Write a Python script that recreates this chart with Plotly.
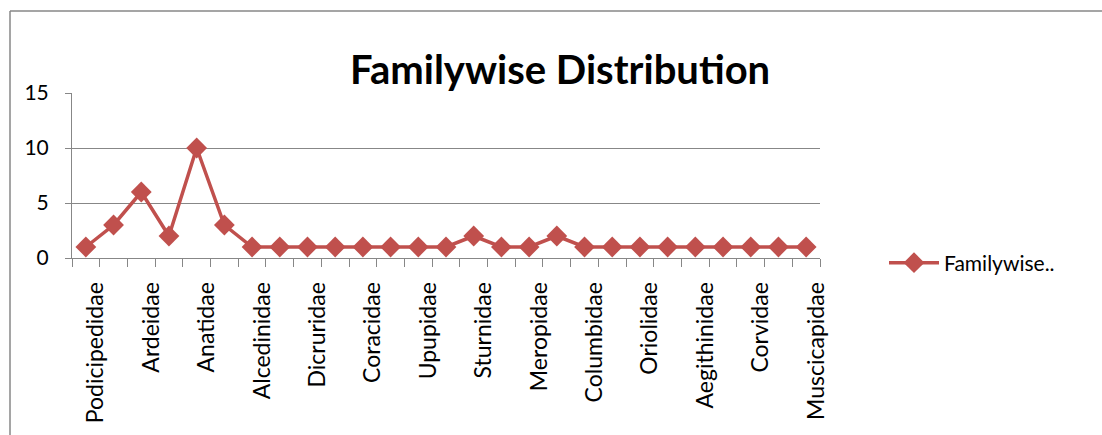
import plotly.graph_objects as go

# 27 families; only every other category label is shown in the chart
categories = [
    "Podicipedidae", "", "Ardeidae", "", "Anatidae", "", "Alcedinidae", "",
    "Dicruridae", "", "Coracidae", "", "Upupidae", "", "Sturnidae", "",
    "Meropidae", "", "Columbidae", "", "Oriolidae", "", "Aegithinidae", "",
    "Corvidae", "", "Muscicapidae",
]
values = [1, 3, 6, 2, 10, 3, 1, 1, 1, 1, 1, 1, 1, 1, 2, 1, 1, 2, 1, 1, 1, 1, 1, 1, 1, 1, 1]
y_ticks = [0, 5, 10, 15]
series_name = "Familywise.."
title_text = "Familywise Distribution"

W, H = 1102, 435
L, R, T, B = 72, 820, 93, 258   # plot area in pixels

x_idx = list(range(len(categories)))
tickvals = [i for i, c in enumerate(categories) if c]
ticktext = [c for c in categories if c]
boundaries = [i - 0.5 for i in range(len(categories) + 1)]

FONT = "Lato"
RED = "#C0504D"
GRAY = "#878787"

fig = go.Figure()
fig.add_trace(go.Scatter(
    x=x_idx, y=values, mode="lines+markers", name=series_name,
    line=dict(color=RED, width=3.5),
    marker=dict(symbol="diamond", size=16, color=RED),
    text=categories,
))

def px_x(p):
    return (p - L) / (R - L)

def px_y(p):
    return (B - p) / (B - T)

fig.update_layout(
    width=W, height=H,
    margin=dict(l=L, r=W - R, t=T, b=H - B, autoexpand=False),
    paper_bgcolor="white", plot_bgcolor="white",
    font=dict(family=FONT, size=21, color="#000000"),
    showlegend=True,
    legend=dict(x=px_x(884), y=px_y(263), xanchor="left", yanchor="middle",
                itemwidth=50,
                font=dict(family=FONT, size=21), bgcolor="rgba(0,0,0,0)"),
    annotations=[dict(
        text="<b>" + title_text + "</b>", xref="paper", yref="paper",
        x=px_x(560), y=px_y(69), xanchor="center", yanchor="middle",
        showarrow=False, font=dict(family=FONT, size=40, color="#000000"),
    )],
    shapes=[
        dict(type="line", xref="paper", yref="paper",
             x0=px_x(10), x1=px_x(1110), y0=px_y(11), y1=px_y(11),
             line=dict(color=GRAY, width=1.5)),
        dict(type="line", xref="paper", yref="paper",
             x0=px_x(10), x1=px_x(10), y0=px_y(11), y1=px_y(445),
             line=dict(color=GRAY, width=1.5)),
    ],
)

fig.update_xaxes(
    range=[-0.5, len(categories) - 0.5],
    tickmode="array", tickvals=tickvals, ticktext=ticktext,
    tickangle=-90, ticks="", showgrid=False, zeroline=False,
    showline=True, linecolor=GRAY, linewidth=1,
    ticklabelstandoff=14, ticklabelshift=10,
    tickfont=dict(family=FONT, size=23, color="#000000"),
    minor=dict(tickmode="array", tickvals=boundaries, ticks="outside",
               ticklen=8, tickcolor=GRAY, tickwidth=1, showgrid=False),
)
fig.update_yaxes(
    range=[0, 15], tickmode="array", tickvals=y_ticks,
    showgrid=True, gridcolor=GRAY, gridwidth=1, zeroline=False,
    showline=True, linecolor=GRAY, linewidth=1,
    ticks="outside", ticklen=6, tickcolor=GRAY,
    ticklabelstandoff=12,
    tickfont=dict(family=FONT, size=21, color="#000000"),
)

fig.write_html("out.html")
